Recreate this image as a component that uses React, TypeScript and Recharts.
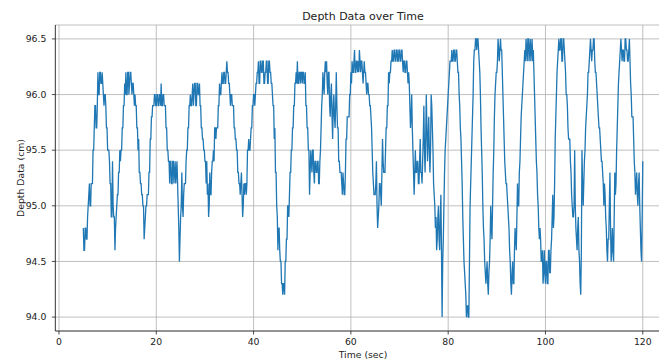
import React from 'react';
import { LineChart, Line, XAxis, YAxis, CartesianGrid } from 'recharts';

// Depth readings (cm), sampled every 0.125 s starting at t = 5 s (one row = one second)
const startTime = 5;
const sampleInterval = 0.125;
const depth: number[] = [
  94.8, 94.6, 94.6, 94.8, 94.8, 94.7, 94.7, 94.9,
  95.0, 95.1, 95.2, 95.0, 95.0, 95.2, 95.2, 95.2,
  95.5, 95.5, 95.7, 95.9, 95.9, 95.7, 95.7, 95.9,
  96.2, 96.0, 96.0, 96.2, 96.2, 96.1, 96.1, 96.2,
  96.1, 96.0, 95.9, 96.0, 96.0, 95.9, 95.7, 95.7,
  95.5, 95.5, 95.5, 95.4, 95.2, 95.2, 94.9, 94.9,
  95.4, 95.0, 94.9, 94.9, 94.6, 94.8, 94.9, 95.0,
  95.1, 95.1, 95.3, 95.3, 95.5, 95.4, 95.5, 95.5,
  95.7, 95.7, 95.9, 95.9, 96.1, 96.0, 96.2, 96.0,
  96.0, 96.2, 96.2, 96.0, 96.1, 96.2, 96.2, 96.1,
  96.0, 96.1, 96.1, 96.0, 95.9, 96.0, 95.9, 95.9,
  95.7, 95.7, 95.5, 95.6, 95.3, 95.3, 95.2, 95.2,
  95.1, 95.1, 95.0, 95.0, 94.7, 94.8, 94.9, 95.0,
  95.0, 95.1, 95.1, 95.1, 95.3, 95.3, 95.6, 95.6,
  95.8, 95.8, 95.9, 95.9, 95.9, 96.0, 96.0, 95.9,
  95.9, 96.0, 96.0, 95.9, 95.9, 96.0, 96.0, 95.9,
  96.1, 95.9, 95.9, 96.0, 96.0, 95.9, 95.9, 95.9,
  95.7, 95.7, 95.5, 95.5, 95.4, 95.4, 95.2, 95.4,
  95.4, 95.2, 95.2, 95.4, 95.4, 95.2, 95.3, 95.4,
  95.2, 95.3, 95.4, 95.2, 95.0, 94.8, 94.5, 94.7,
  94.9, 95.0, 95.3, 95.0, 94.9, 95.1, 95.2, 95.2,
  95.2, 95.4, 95.5, 95.5, 95.7, 95.7, 95.9, 95.9,
  96.0, 95.9, 95.9, 96.0, 96.1, 95.9, 96.0, 96.1,
  96.1, 95.9, 95.9, 96.1, 96.1, 96.0, 96.0, 96.1,
  95.9, 95.9, 95.7, 95.7, 95.6, 95.6, 95.5, 95.5,
  95.4, 95.4, 95.2, 95.4, 95.1, 95.2, 94.9, 95.0,
  95.3, 95.1, 95.1, 95.3, 95.4, 95.4, 95.5, 95.4,
  95.7, 95.7, 95.6, 95.7, 95.7, 95.7, 95.9, 95.9,
  96.1, 96.0, 96.0, 96.1, 96.2, 96.1, 96.1, 96.2,
  96.2, 96.1, 96.1, 96.2, 96.3, 96.2, 96.2, 96.1,
  96.1, 96.0, 95.9, 96.0, 96.0, 95.9, 95.9, 95.9,
  95.7, 95.7, 95.6, 95.6, 95.5, 95.5, 95.3, 95.3,
  95.2, 95.2, 95.1, 95.2, 95.3, 95.1, 94.9, 95.0,
  95.2, 95.1, 95.2, 95.2, 95.1, 95.2, 95.5, 95.5,
  95.6, 95.5, 95.5, 95.6, 95.7, 95.7, 95.9, 95.9,
  96.0, 96.0, 95.9, 96.0, 96.1, 96.1, 96.2, 96.2,
  96.3, 96.1, 96.1, 96.3, 96.3, 96.2, 96.2, 96.3,
  96.3, 96.1, 96.1, 96.2, 96.2, 96.3, 96.3, 96.1,
  96.1, 96.3, 96.3, 96.2, 96.2, 96.1, 96.1, 96.0,
  95.9, 95.9, 95.6, 95.7, 95.3, 95.3, 95.0, 94.9,
  94.6, 94.8, 94.8, 94.6, 94.5, 94.5, 94.3, 94.3,
  94.2, 94.3, 94.3, 94.2, 94.5, 94.5, 94.7, 94.7,
  95.0, 95.0, 94.9, 95.1, 95.3, 95.3, 95.5, 95.5,
  95.7, 95.7, 95.9, 95.9, 96.1, 96.1, 96.2, 96.1,
  96.3, 96.1, 96.1, 96.2, 96.2, 96.1, 96.2, 96.2,
  96.1, 96.2, 96.2, 96.1, 96.1, 96.2, 95.9, 95.9,
  95.7, 95.7, 95.5, 95.5, 95.1, 95.3, 95.5, 95.4,
  95.3, 95.5, 95.5, 95.3, 95.2, 95.4, 95.4, 95.3,
  95.3, 95.4, 95.4, 95.2, 95.2, 95.4, 95.5, 95.7,
  95.9, 96.0, 96.2, 96.1, 96.0, 96.2, 96.3, 96.2,
  96.3, 96.1, 96.0, 96.2, 96.2, 95.9, 95.8, 96.0,
  96.1, 95.8, 95.6, 95.9, 96.0, 95.8, 95.7, 95.9,
  96.2, 95.9, 95.7, 95.7, 95.4, 95.4, 95.3, 95.3,
  95.3, 95.2, 95.1, 95.3, 95.2, 95.1, 95.1, 95.3,
  95.6, 95.6, 95.8, 95.8, 95.8, 95.8, 96.0, 96.0,
  96.2, 96.1, 96.3, 96.2, 96.2, 96.3, 96.4, 96.2,
  96.2, 96.3, 96.3, 96.2, 96.3, 96.2, 96.4, 96.3,
  96.2, 96.3, 96.3, 96.2, 96.1, 96.2, 96.3, 96.2,
  96.2, 96.1, 96.0, 96.1, 96.1, 96.0, 96.0, 95.9,
  95.9, 95.8, 95.7, 95.5, 95.3, 95.2, 95.1, 95.1,
  95.1, 95.2, 95.4, 95.0, 94.8, 94.9, 95.0, 95.2,
  95.2, 95.1, 95.0, 95.3, 95.6, 95.4, 95.3, 95.3,
  95.3, 95.5, 95.7, 95.7, 95.9, 95.9, 96.2, 96.1,
  96.2, 96.2, 96.3, 96.3, 96.4, 96.3, 96.3, 96.4,
  96.4, 96.3, 96.3, 96.4, 96.4, 96.3, 96.3, 96.4,
  96.4, 96.3, 96.3, 96.4, 96.4, 96.3, 96.2, 96.3,
  96.3, 96.2, 96.2, 96.3, 96.3, 96.2, 96.1, 96.2,
  96.1, 95.9, 95.7, 95.8, 96.0, 95.7, 95.5, 95.3,
  95.1, 95.3, 95.5, 95.3, 95.3, 95.4, 95.4, 95.2,
  95.2, 95.4, 95.6, 95.3, 95.3, 95.2, 95.4, 95.6,
  95.9, 95.5, 95.3, 95.6, 96.0, 95.7, 95.4, 95.6,
  95.8, 95.5, 95.3, 95.5, 96.0, 95.9, 95.7, 95.5,
  95.2, 95.1, 95.0, 94.8, 94.9, 94.6, 94.7, 94.9,
  95.0, 94.7, 94.6, 94.9, 95.1, 94.6, 94.0, 94.5,
  94.7, 95.0, 95.3, 95.5, 95.6, 95.7, 95.8, 95.9,
  96.0, 96.1, 96.2, 96.3, 96.3, 96.3, 96.4, 96.3,
  96.3, 96.4, 96.4, 96.3, 96.3, 96.4, 96.4, 96.3,
  96.2, 96.2, 96.0, 95.9, 95.7, 95.6, 95.4, 95.2,
  94.9, 94.7, 94.5, 94.4, 94.3, 94.2, 94.0, 94.1,
  94.1, 94.0, 94.0, 94.5, 95.0, 95.2, 95.4, 95.6,
  95.8, 96.0, 96.3, 96.4, 96.4, 96.5, 96.5, 96.4,
  96.5, 96.5, 96.4, 96.3, 96.2, 96.0, 95.7, 95.5,
  95.3, 95.0, 94.8, 94.7, 94.5, 94.4, 94.3, 94.4,
  94.5, 94.3, 94.2, 94.4, 94.5, 94.7, 95.0, 94.8,
  94.7, 95.0, 95.3, 95.5, 95.8, 96.0, 96.1, 96.2,
  96.2, 96.3, 96.5, 96.4, 96.3, 96.4, 96.5, 96.4,
  96.4, 96.2, 96.0, 95.8, 95.6, 95.4, 95.3, 95.2,
  95.2, 95.1, 95.0, 94.9, 94.8, 94.6, 94.5, 94.3,
  94.2, 94.4, 94.5, 94.3, 94.3, 94.6, 94.8, 94.7,
  94.6, 94.9, 95.2, 95.0, 95.0, 95.3, 95.4, 95.6,
  95.8, 95.9, 96.0, 96.1, 96.2, 96.3, 96.4, 96.3,
  96.5, 96.4, 96.3, 96.5, 96.5, 96.3, 96.4, 96.5,
  96.3, 96.4, 96.5, 96.3, 96.4, 96.2, 96.0, 95.8,
  95.6, 95.4, 95.3, 95.1, 95.0, 94.8, 94.7, 94.8,
  94.7, 94.5, 94.5, 94.6, 94.3, 94.4, 94.6, 94.4,
  94.3, 94.5, 94.5, 94.3, 94.3, 94.6, 94.6, 94.4,
  94.4, 94.6, 94.7, 94.9, 95.1, 94.8, 94.9, 95.2,
  95.6, 95.8, 96.0, 96.2, 96.3, 96.4, 96.5, 96.4,
  96.4, 96.5, 96.5, 96.3, 96.3, 96.5, 96.5, 96.4,
  96.3, 96.2, 96.0, 96.0, 95.9, 95.7, 95.6, 95.6,
  95.6, 95.4, 95.3, 95.1, 95.0, 94.9, 94.9, 95.0,
  95.5, 95.0, 94.8, 94.7, 94.6, 94.8, 94.9, 94.6,
  94.5, 94.3, 94.2, 94.6, 95.5, 95.2, 95.0, 95.2,
  95.4, 95.5, 95.7, 95.8, 95.9, 96.0, 96.2, 96.2,
  96.3, 96.4, 96.5, 96.4, 96.3, 96.4, 96.4, 96.5,
  96.5, 96.3, 96.2, 96.2, 96.1, 96.0, 95.9, 95.8,
  95.7, 95.7, 95.6, 95.5, 95.4, 95.4, 95.3, 95.2,
  95.0, 95.2, 95.1, 94.9, 94.8, 94.6, 94.5, 94.7,
  94.7, 95.0, 95.3, 94.8, 94.5, 94.6, 94.8, 94.6,
  94.5, 94.9, 95.3, 95.1, 95.2, 95.5, 95.7, 95.9,
  96.1, 96.2, 96.3, 96.4, 96.5, 96.4, 96.3, 96.4,
  96.4, 96.3, 96.3, 96.5, 96.5, 96.4, 96.4, 96.3,
  96.3, 96.4, 96.5, 96.3, 96.1, 96.0, 95.8, 95.8,
  95.8, 95.6, 95.4, 95.3, 95.1, 95.2, 95.3, 95.1,
  95.0, 95.2, 95.3, 95.0, 94.8, 94.6, 94.5, 94.9,
  95.4,
];

const xTicks = [0, 20, 40, 60, 80, 100, 120];
const yTicks = [94.0, 94.5, 95.0, 95.5, 96.0, 96.5];
const xDomain: [number, number] = [-0.75, 125.75];
const yDomain: [number, number] = [93.875, 96.625];

const title = 'Depth Data over Time';
const xLabel = 'Time (sec)';
const yLabel = 'Depth Data (cm)';

const data = depth.map((v, i) => ({ t: startTime + i * sampleInterval, depth: v }));

const FONT = "'DejaVu Sans', sans-serif";
const TEXT = '#222';
const tickStyle = { fontSize: 9.3, fill: TEXT, fontFamily: FONT };

export default function App() {
  return (
    <div
      style={{
        position: 'absolute',
        left: 0,
        top: 0,
        width: 659,
        height: 361,
        overflow: 'hidden',
        background: '#fff',
      }}
    >
      <LineChart
        width={680}
        height={361}
        data={data}
        margin={{ top: 25, right: 9.25, bottom: 0, left: 0 }}
      >
        <CartesianGrid stroke="#b0b0b0" strokeWidth={0.8} />
        <XAxis
          dataKey="t"
          type="number"
          domain={xDomain}
          ticks={xTicks}
          allowDataOverflow
          height={30}
          tickSize={3.5}
          tickMargin={3.5}
          tick={tickStyle}
          stroke="#222"
          strokeWidth={0.8}
        />
        <XAxis
          xAxisId="top"
          orientation="top"
          type="number"
          domain={xDomain}
          allowDataOverflow
          height={0}
          tick={false}
          tickLine={false}
          stroke="#222"
          strokeWidth={0.8}
        />
        <YAxis
          type="number"
          domain={yDomain}
          ticks={yTicks}
          allowDataOverflow
          width={55.35}
          tickSize={3.5}
          tickMargin={5.5}
          tick={tickStyle}
          tickFormatter={(v: number) => v.toFixed(1)}
          stroke="#222"
          strokeWidth={0.8}
        />
        <Line
          type="linear"
          dataKey="depth"
          stroke="#1f77b4"
          strokeWidth={1.3}
          dot={false}
          isAnimationActive={false}
        />
      </LineChart>
      <svg
        width={659}
        height={361}
        style={{ position: 'absolute', left: 0, top: 0, pointerEvents: 'none' }}
      >
        <text x={363} y={19.5} textAnchor="middle" fontSize={11} fontFamily={FONT} fill={TEXT}>
          {title}
        </text>
        <text
          x={363}
          y={354}
          textAnchor="middle"
          dominantBaseline="central"
          fontSize={9.3}
          fontFamily={FONT}
          fill={TEXT}
        >
          {xLabel}
        </text>
        <text
          x={20.5}
          y={178}
          textAnchor="middle"
          dominantBaseline="central"
          fontSize={9.3}
          fontFamily={FONT}
          fill={TEXT}
          transform="rotate(-90 20.5 178)"
        >
          {yLabel}
        </text>
      </svg>
    </div>
  );
}
